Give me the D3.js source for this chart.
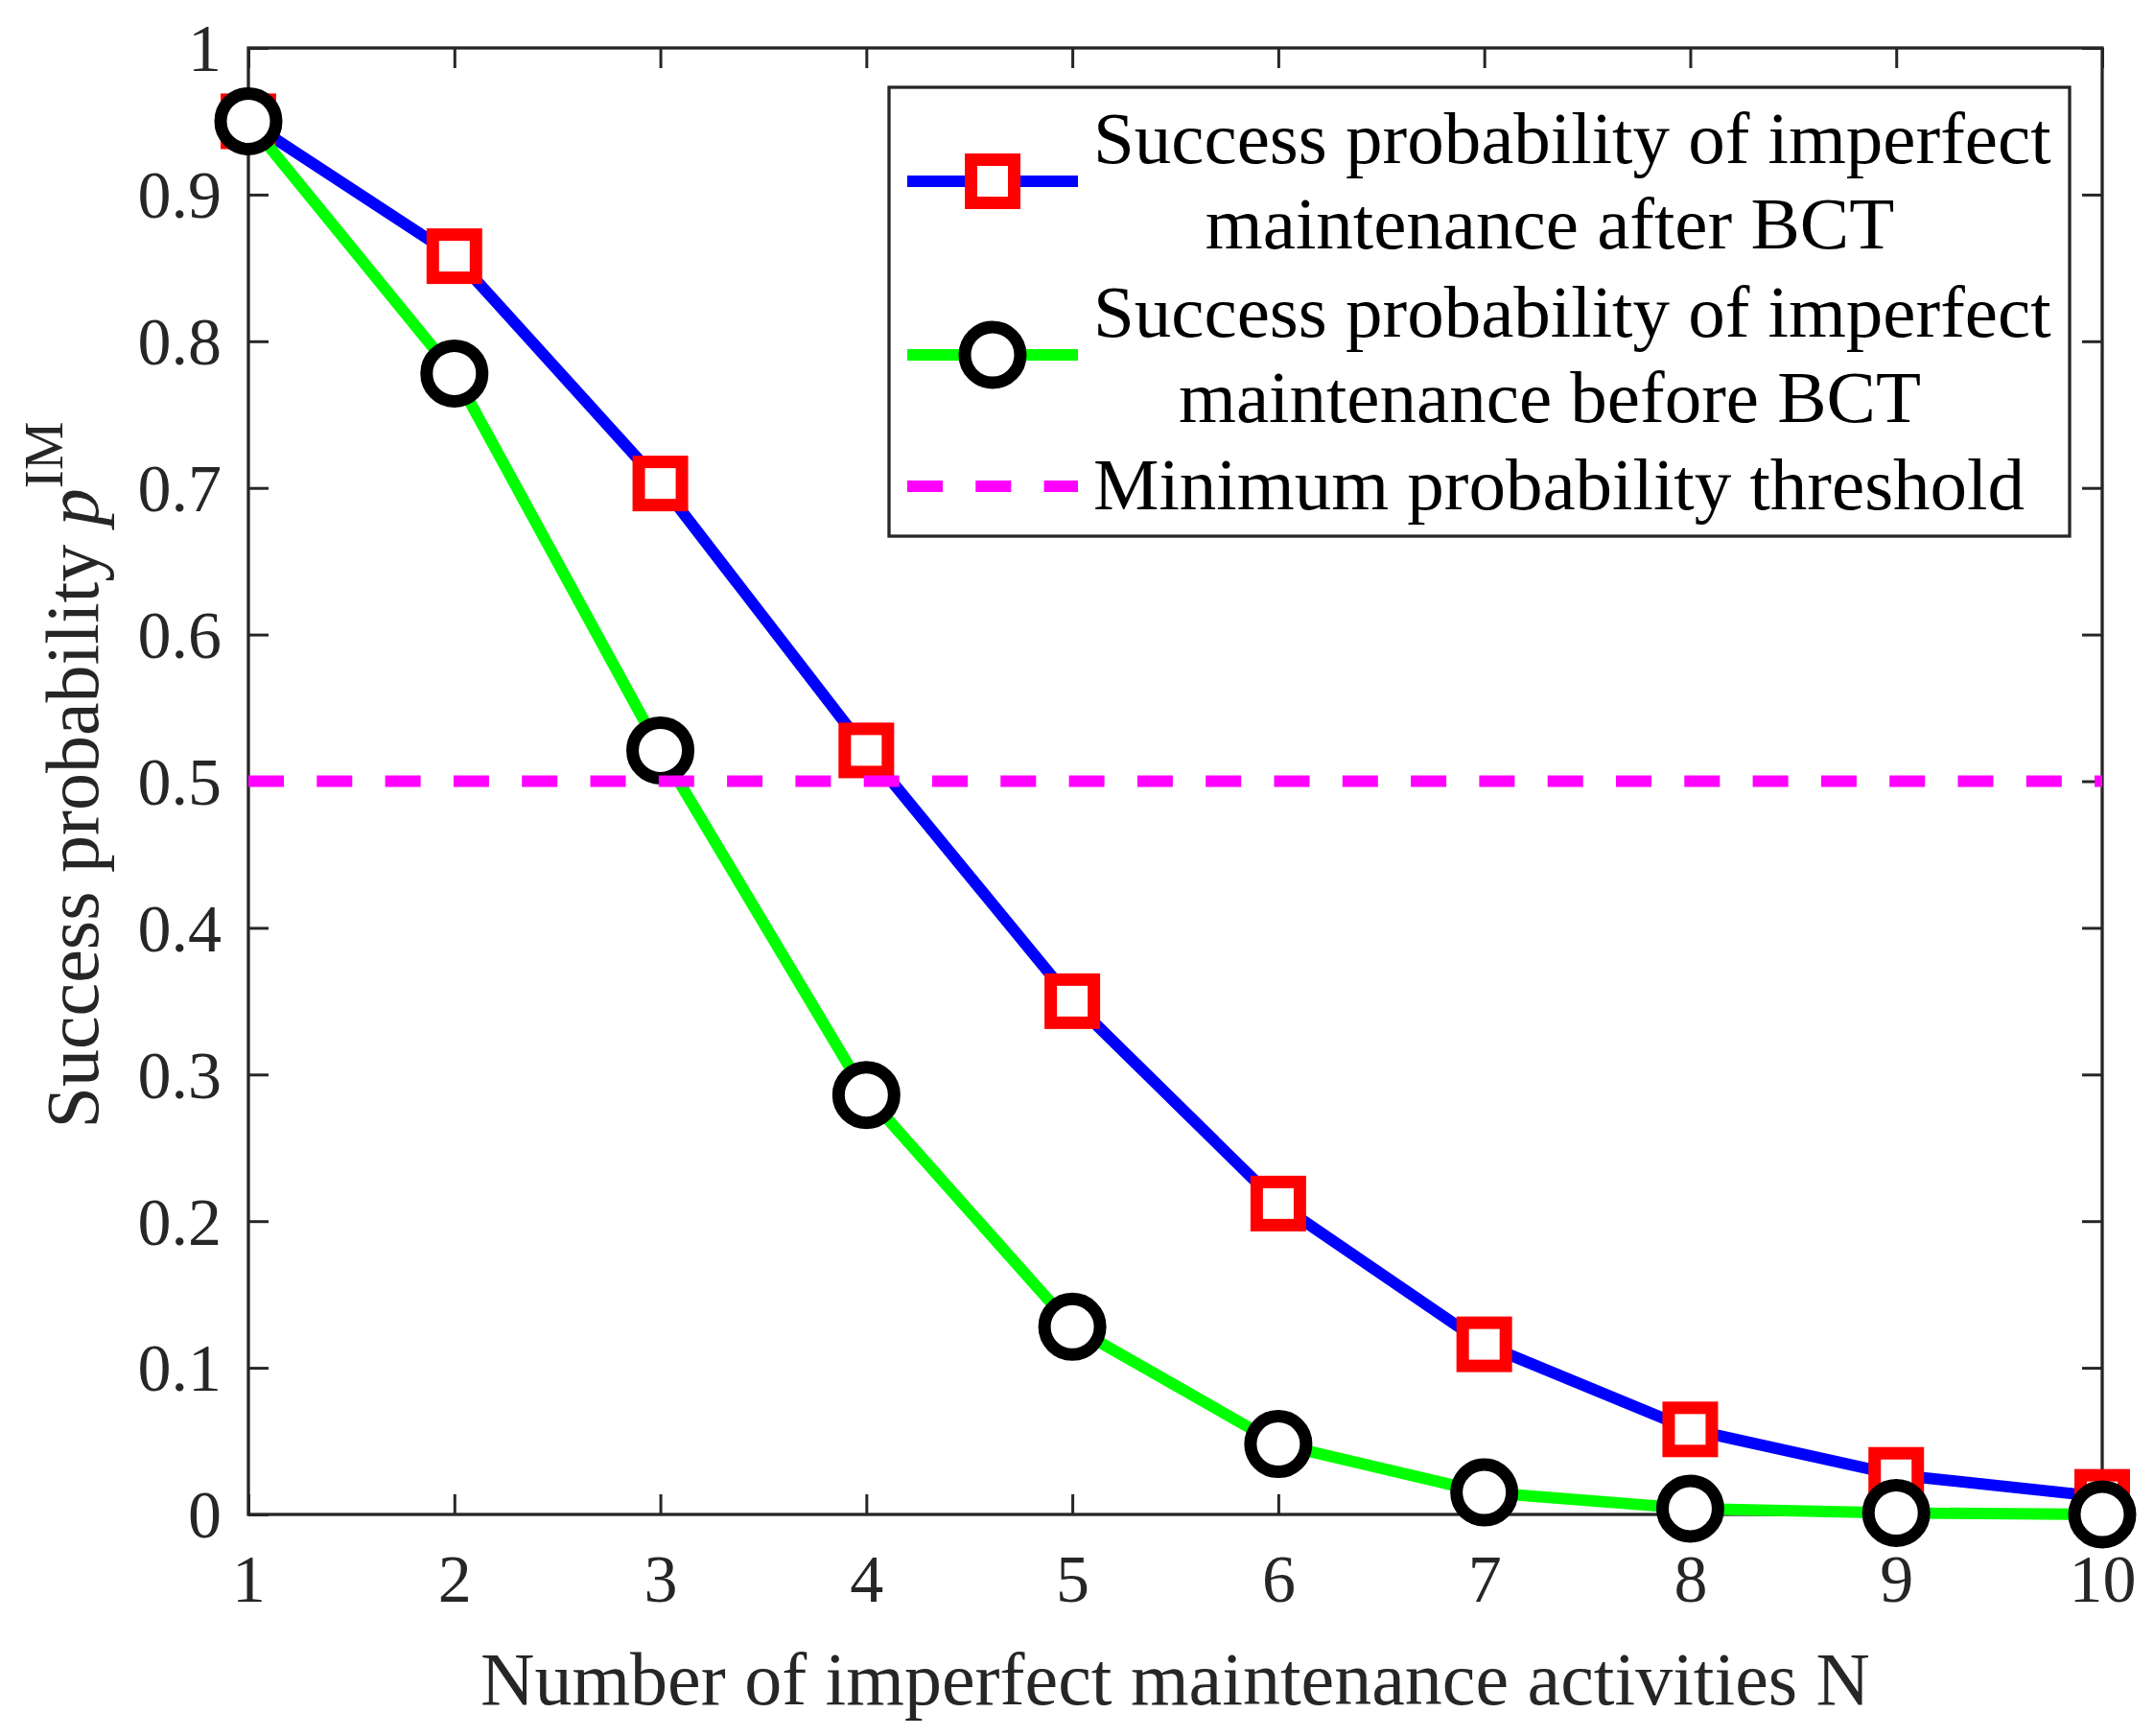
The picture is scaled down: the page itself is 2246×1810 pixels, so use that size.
<!DOCTYPE html>
<html>
<head>
<meta charset="utf-8">
<script src="https://cdn.jsdelivr.net/npm/d3@7"></script>
<style>
  html, body { margin: 0; padding: 0; background: #fff; }
  svg { display: block; }
</style>
</head>
<body>
<div id="chart"></div>
<script>
// ---- data ----
const N = [1, 2, 3, 4, 5, 6, 7, 8, 9, 10];
const afterBCT  = [0.950, 0.858, 0.703, 0.521, 0.350, 0.212, 0.116, 0.058, 0.027, 0.012];
const beforeBCT = [0.950, 0.778, 0.521, 0.286, 0.128, 0.048, 0.015, 0.004, 0.001, 0.000];
const threshold = 0.5;
const xTicks = [1, 2, 3, 4, 5, 6, 7, 8, 9, 10];
const xTickLabels = ["1", "2", "3", "4", "5", "6", "7", "8", "9", "10"];
const yTicks = [0, 0.1, 0.2, 0.3, 0.4, 0.5, 0.6, 0.7, 0.8, 0.9, 1];
const yTickLabels = ["0", "0.1", "0.2", "0.3", "0.4", "0.5", "0.6", "0.7", "0.8", "0.9", "1"];
const legendLabels = [
  ["Success probability of imperfect", "maintenance after BCT"],
  ["Success probability of imperfect", "maintenance before BCT"],
  ["Minimum probability threshold"]
];
const xLabel = "Number of imperfect maintenance activities N";

// ---- layout ----
const W = 2246, H = 1810;
const L = 259, R = 2192, T = 50, B = 1579;
const FONT = "'Liberation Serif', 'Times New Roman', serif";
const AX = "#262626";

const svg = d3.select("#chart").append("svg")
  .attr("width", W).attr("height", H)
  .style("font-family", FONT);
svg.append("rect").attr("width", W).attr("height", H).attr("fill", "#fff");

const x = d3.scaleLinear().domain([1, 10]).range([L, R]);
const y = d3.scaleLinear().domain([0, 1]).range([B, T]);

// axes (ticks inward, mirrored)
function styleAxis(g) {
  g.select(".domain").remove();
  g.selectAll(".tick line").attr("stroke", AX).attr("stroke-width", 3);
}
const gx = svg.append("g").attr("transform", `translate(0,${B})`)
  .call(d3.axisBottom(x).tickValues(xTicks).tickSize(-21)
        .tickFormat((d, i) => xTickLabels[i]));
styleAxis(gx);
gx.selectAll(".tick text").attr("y", 91).attr("dy", null)
  .attr("fill", AX).style("font-size", "70px").style("font-family", FONT);

const gxt = svg.append("g").attr("transform", `translate(0,${T})`)
  .call(d3.axisTop(x).tickValues(xTicks).tickSize(-21).tickFormat(""));
styleAxis(gxt);

const gy = svg.append("g").attr("transform", `translate(${L},0)`)
  .call(d3.axisLeft(y).tickValues(yTicks).tickSize(-21)
        .tickFormat((d, i) => yTickLabels[i]));
styleAxis(gy);
gy.selectAll(".tick text").attr("x", -28).attr("dy", "0.34em")
  .attr("fill", AX).style("font-size", "70px").style("font-family", FONT);

const gyr = svg.append("g").attr("transform", `translate(${R},0)`)
  .call(d3.axisRight(y).tickValues(yTicks).tickSize(-21).tickFormat(""));
styleAxis(gyr);

// frame
svg.append("rect").attr("x", L).attr("y", T).attr("width", R - L).attr("height", B - T)
  .attr("fill", "none").attr("stroke", AX).attr("stroke-width", 3.3);

// series
const line = d3.line().x((d, i) => x(N[i])).y(d => y(d));
const SQ = 45, CR = 29, MW = 13, LW = 12;

svg.append("path").datum(afterBCT).attr("d", line)
  .attr("fill", "none").attr("stroke", "#0000ff").attr("stroke-width", LW)
  .attr("stroke-linejoin", "round");
svg.append("g").selectAll("rect").data(afterBCT).join("rect")
  .attr("x", (d, i) => x(N[i]) - SQ / 2).attr("y", d => y(d) - SQ / 2)
  .attr("width", SQ).attr("height", SQ)
  .attr("fill", "#fff").attr("stroke", "#ff0000").attr("stroke-width", MW);

svg.append("path").datum(beforeBCT).attr("d", line)
  .attr("fill", "none").attr("stroke", "#00ff00").attr("stroke-width", LW)
  .attr("stroke-linejoin", "round");
svg.append("g").selectAll("circle").data(beforeBCT).join("circle")
  .attr("cx", (d, i) => x(N[i])).attr("cy", d => y(d)).attr("r", CR)
  .attr("fill", "#fff").attr("stroke", "#000").attr("stroke-width", MW);

svg.append("line").attr("x1", x(1)).attr("x2", x(10))
  .attr("y1", y(threshold)).attr("y2", y(threshold))
  .attr("stroke", "#ff00ff").attr("stroke-width", 12).attr("stroke-dasharray", "37,34.3");

// axis labels
svg.append("text").attr("x", (L + R) / 2).attr("y", 1777).attr("text-anchor", "middle")
  .attr("fill", AX).style("font-size", "78px").text(xLabel);

const yl = svg.append("text").attr("transform", "translate(102,808) rotate(-90)")
  .attr("text-anchor", "middle").attr("fill", AX).style("font-size", "78px");
yl.append("tspan").text("Success probability ");
yl.append("tspan").style("font-style", "italic").text("p");
yl.append("tspan").attr("dy", -37).style("font-size", "57px").text("IM");

// legend
const lg = svg.append("g");
lg.append("rect").attr("x", 927).attr("y", 91).attr("width", 1231).attr("height", 468)
  .attr("fill", "#fff").attr("stroke", AX).attr("stroke-width", 3.3);
const entryY = [189, 370, 507];
const entryBase = [[170, 259], [351, 440], [531]];
const sx1 = 946, sx2 = 1124, sm = 1035;
// entry 1
lg.append("line").attr("x1", sx1).attr("x2", sx2).attr("y1", entryY[0]).attr("y2", entryY[0])
  .attr("stroke", "#0000ff").attr("stroke-width", LW);
lg.append("rect").attr("x", sm - SQ / 2).attr("y", entryY[0] - SQ / 2).attr("width", SQ).attr("height", SQ)
  .attr("fill", "#fff").attr("stroke", "#ff0000").attr("stroke-width", MW);
// entry 2
lg.append("line").attr("x1", sx1).attr("x2", sx2).attr("y1", entryY[1]).attr("y2", entryY[1])
  .attr("stroke", "#00ff00").attr("stroke-width", LW);
lg.append("circle").attr("cx", sm).attr("cy", entryY[1]).attr("r", CR)
  .attr("fill", "#fff").attr("stroke", "#000").attr("stroke-width", MW);
// entry 3
lg.append("line").attr("x1", sx1).attr("x2", sx2).attr("y1", entryY[2]).attr("y2", entryY[2])
  .attr("stroke", "#ff00ff").attr("stroke-width", 12).attr("stroke-dasharray", "37,34.3");

legendLabels.forEach((lines, k) => {
  lines.forEach((s, j) => {
    lg.append("text")
      .attr("x", j === 0 ? 1140 : 1616)
      .attr("y", entryBase[k][j])
      .attr("text-anchor", j === 0 ? "start" : "middle")
      .attr("fill", "#000").style("font-size", "77px").text(s);
  });
});
</script>
</body>
</html>
